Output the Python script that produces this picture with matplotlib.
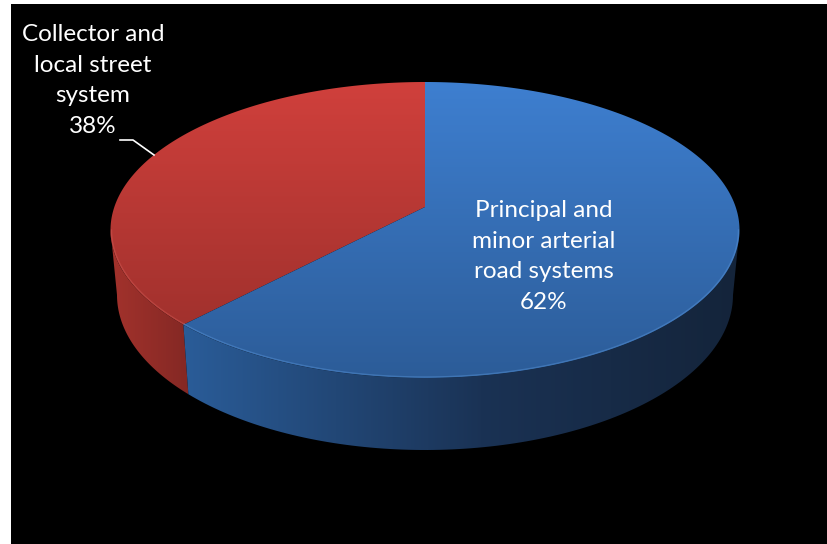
import numpy as np
import matplotlib
matplotlib.use("Agg")
import matplotlib.pyplot as plt
from matplotlib.patches import Polygon, Rectangle

labels = ["Collector and\nlocal street\nsystem\n38%", "Principal and\nminor arterial\nroad systems\n62%"]
shares = [38, 62]

# pie geometry in pixels, the chart was a 3D excel pie
cx, top_cy, apex_y = 425, 230, 207
rx, ry = 314.5, 148
bot_cy, bot_rx, bot_ry = 295, 308, 155
perspective = -7.0


def rim(t, x0, y0, a, b):
    t = np.radians(t)
    return np.column_stack([x0 + a * np.cos(t), y0 - b * np.sin(t)])


def gradient_fill(ax, verts, fn):
    # colour image clipped to the polygon
    patch = Polygon(verts, closed=True, fc="none", ec="none")
    ax.add_patch(patch)
    yy, xx = np.mgrid[0:544, 0:827]
    img = ax.imshow(fn(xx, yy), extent=(0, 827, 544, 0), interpolation="bilinear", aspect="auto", zorder=2)
    img.set_clip_path(patch)


def shade(c1, c2, f):
    c1, c2 = np.array(c1) / 255, np.array(c2) / 255
    f = np.clip(f, 0, 1)[..., None]
    return c1 * (1 - f) + c2 * f


def top_blue(x, y):
    return shade((62, 127, 208), (44, 92, 152), (y - 82) / 296)


def top_red(x, y):
    return shade((208, 64, 60), (158, 48, 44), (y - 82) / 260)


def side_blue(x, y):
    col = shade((42, 92, 152), (26, 50, 84), (x - 185) / 300)
    col2 = shade((26, 50, 84), (20, 36, 58), (x - 480) / 260)
    return np.where((x < 480)[..., None], col, col2)


def side_red(x, y):
    return shade((162, 50, 44), (132, 40, 36), (x - 112) / 76)


fig = plt.figure(figsize=(8.27, 5.44), dpi=100, facecolor="white")
ax = fig.add_axes([0, 0, 1, 1])
ax.set_xlim(0, 827)
ax.set_ylim(544, 0)
ax.axis("off")
ax.add_patch(Rectangle((11, 4), 816, 540, fc="black", ec="none", zorder=1))

split = 90 + 360 * shares[0] / sum(shares) + perspective

# side walls
red_top = rim(np.linspace(180, split, 60), cx, top_cy, rx, ry)
red_bot = rim(np.linspace(split, 180, 60), cx, bot_cy, bot_rx, bot_ry)
gradient_fill(ax, np.vstack([red_top, red_bot]), side_red)

blue_top = rim(np.linspace(split, 360, 120), cx, top_cy, rx, ry)
blue_bot = rim(np.linspace(360, split, 120), cx, bot_cy, bot_rx, bot_ry)
gradient_fill(ax, np.vstack([blue_top, blue_bot]), side_blue)

# top face
apex = [[cx, apex_y]]
red_arc = rim(np.linspace(90, split, 120), cx, top_cy, rx, ry)
blue_arc = rim(np.linspace(split, 450, 240), cx, top_cy, rx, ry)
gradient_fill(ax, np.vstack([apex, red_arc]), top_red)
gradient_fill(ax, np.vstack([apex, blue_arc]), top_blue)

# lighter bevel along the front rim
ax.plot(*rim(np.linspace(180, split, 60), cx, top_cy, rx - 1, ry - 1).T, color="#D9605A", lw=1.0, alpha=0.4, zorder=3)
ax.plot(*rim(np.linspace(split, 360, 120), cx, top_cy, rx - 1, ry - 1).T, color="#5E9BE0", lw=1.0, alpha=0.4, zorder=3)

ax.text(93, 80.5, labels[0], color="white", fontsize=17.5, family="Lato", ha="center", va="center", linespacing=1.55, zorder=4)
ax.text(544, 256.5, labels[1], color="white", fontsize=17.5, family="Lato", ha="center", va="center", linespacing=1.55, zorder=4)
ax.plot([120, 133, 154], [140, 140, 155], color="white", lw=1.2, zorder=4)

plt.savefig("out.png", dpi=100, facecolor=fig.get_facecolor())
